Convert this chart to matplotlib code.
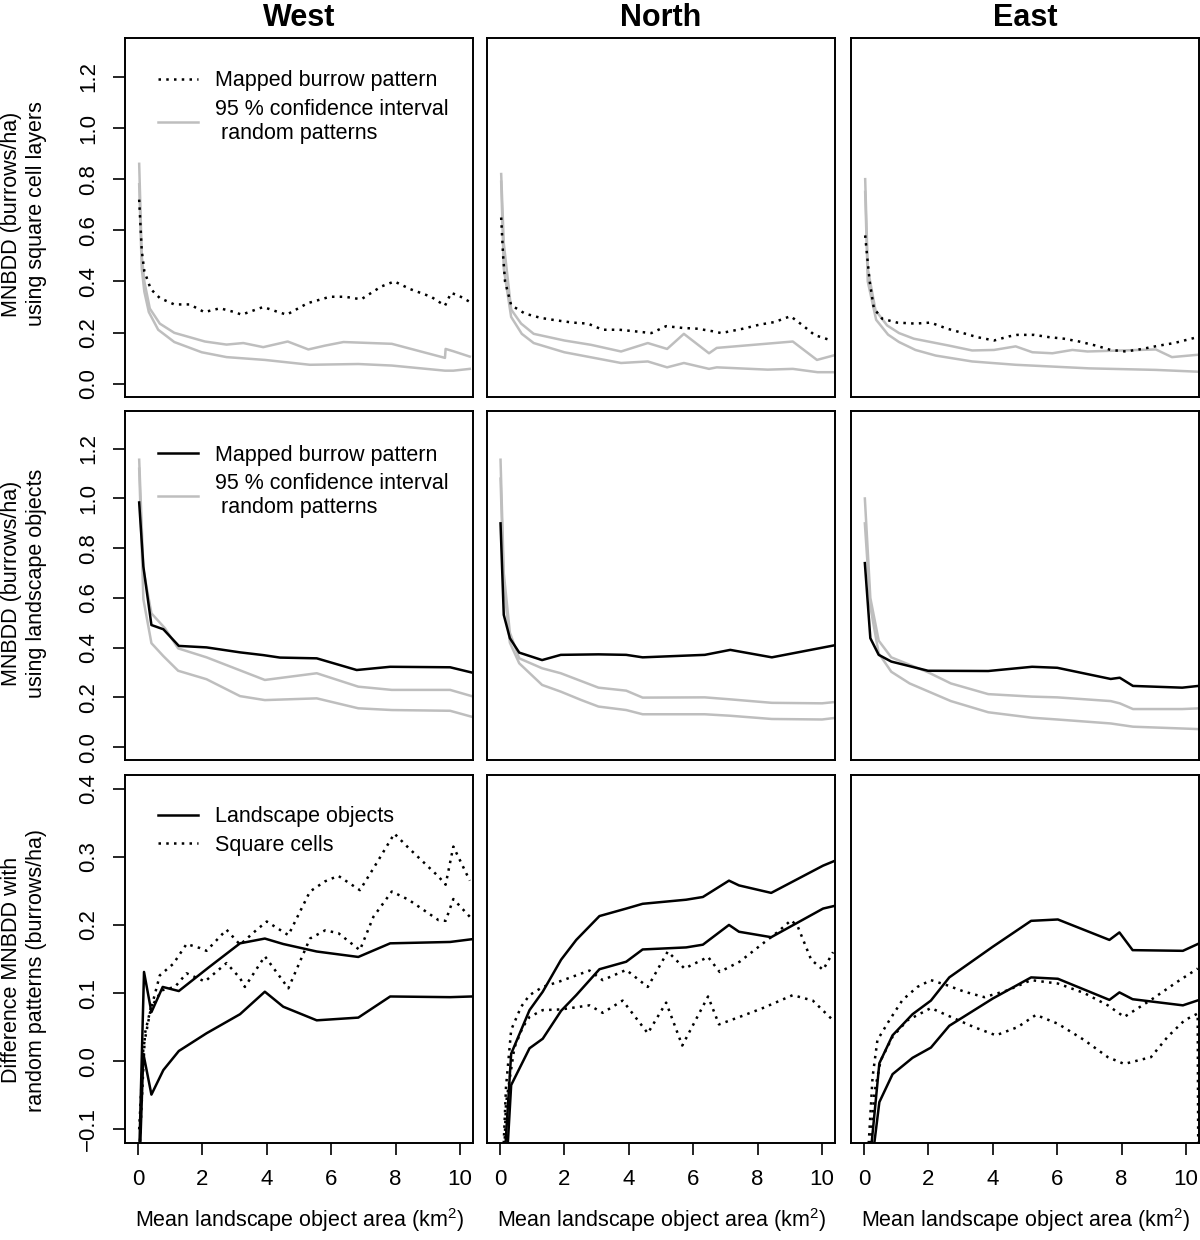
import numpy as np
import matplotlib
matplotlib.use("Agg")
import matplotlib.pyplot as plt
from matplotlib.lines import Line2D

plt.rcParams['font.family'] = ['Liberation Sans', 'DejaVu Sans']
plt.rcParams['mathtext.fontset'] = 'custom'
plt.rcParams['mathtext.rm'] = 'Liberation Sans'
plt.rcParams['mathtext.it'] = 'Liberation Sans'

# ---------------- top row: square cell layers (mapped + 95% CI) ----------------
sq_w_x = [0.04, 0.12, 0.2, 0.4, 0.68, 1.13, 1.61, 2.06, 2.55, 3.0, 3.22, 3.89, 4.36, 4.62,
          5.27, 5.96, 6.43, 6.93, 7.55, 7.96, 8.45, 9.1, 9.53, 9.72, 9.95, 10.3]
sq_w_obs = [0.72, 0.52, 0.44, 0.37, 0.335, 0.31, 0.31, 0.28, 0.295, 0.28, 0.27, 0.30, 0.28, 0.27,
            0.315, 0.34, 0.34, 0.33, 0.38, 0.40, 0.37, 0.34, 0.305, 0.355, 0.345, 0.32]
sq_w_hi_x = [0.04, 0.12, 0.2, 0.37, 0.68, 1.13, 2.08, 2.75, 3.27, 3.89, 4.65, 5.29, 5.81, 6.38,
             7.88, 9.53, 9.55, 9.79, 10.3]
sq_w_hi = [0.86, 0.50, 0.40, 0.294, 0.235, 0.199, 0.165, 0.153, 0.159, 0.143, 0.165, 0.134, 0.149,
           0.163, 0.156, 0.101, 0.136, 0.127, 0.106]
sq_w_lo_x = [0.04, 0.12, 0.2, 0.34, 0.63, 1.13, 1.98, 2.75, 3.94, 5.34, 6.84, 7.88, 9.53, 9.79, 10.3]
sq_w_lo = [0.78, 0.45, 0.36, 0.28, 0.211, 0.163, 0.123, 0.104, 0.093, 0.074, 0.077, 0.071, 0.051,
           0.051, 0.058]

sq_n_x = [0.04, 0.1, 0.16, 0.35, 0.78, 1.28, 1.74, 2.26, 2.73, 3.19, 3.71, 4.18, 4.7, 5.16, 5.68,
          6.14, 6.61, 6.87, 7.54, 8.06, 8.52, 9.02, 9.4, 9.77, 10.29]
sq_n_obs = [0.65, 0.5, 0.40, 0.307, 0.274, 0.257, 0.248, 0.239, 0.235, 0.211, 0.211, 0.205, 0.198,
            0.225, 0.218, 0.215, 0.205, 0.198, 0.215, 0.231, 0.241, 0.264, 0.228, 0.19, 0.169]
sq_n_hi_x = [0.04, 0.12, 0.35, 0.66, 1.05, 2.0, 2.83, 3.76, 4.59, 5.19, 5.71, 6.49, 6.73, 9.09,
             9.84, 10.34]
sq_n_hi = [0.82, 0.55, 0.29, 0.235, 0.195, 0.169, 0.152, 0.126, 0.159, 0.136, 0.195, 0.119, 0.14,
           0.165, 0.093, 0.11]
sq_n_lo_x = [0.04, 0.12, 0.35, 0.68, 1.05, 2.0, 3.76, 4.59, 5.19, 5.71, 6.49, 6.73, 8.31, 9.09,
             9.86, 10.34]
sq_n_lo = [0.79, 0.45, 0.261, 0.195, 0.159, 0.123, 0.081, 0.087, 0.064, 0.081, 0.058, 0.064, 0.055,
           0.058, 0.045, 0.045]

sq_e_x = [0.04, 0.1, 0.18, 0.31, 0.57, 1.03, 1.6, 2.07, 2.59, 3.05, 3.52, 4.04, 4.5, 4.76, 5.28,
          5.75, 6.21, 6.68, 7.2, 7.66, 8.13, 8.64, 9.16, 9.63, 10.35]
sq_e_obs = [0.58, 0.5, 0.40, 0.294, 0.254, 0.239, 0.235, 0.239, 0.215, 0.199, 0.182, 0.169, 0.185,
            0.191, 0.191, 0.182, 0.176, 0.165, 0.149, 0.132, 0.126, 0.136, 0.149, 0.159, 0.182]
sq_e_hi_x = [0.04, 0.12, 0.36, 0.72, 1.09, 1.55, 2.64, 3.36, 4.04, 4.71, 5.23, 5.85, 6.47, 6.94,
             9.06, 9.56, 10.35]
sq_e_hi = [0.80, 0.45, 0.287, 0.228, 0.198, 0.176, 0.149, 0.13, 0.132, 0.146, 0.123, 0.119, 0.132,
           0.126, 0.134, 0.104, 0.113]
sq_e_lo_x = [0.04, 0.12, 0.38, 0.75, 1.09, 1.6, 2.23, 3.36, 4.71, 6.99, 9.06, 10.35]
sq_e_lo = [0.75, 0.40, 0.25, 0.192, 0.163, 0.132, 0.11, 0.087, 0.074, 0.06, 0.054, 0.047]

# ---------------- middle row: landscape objects ----------------
lo_w_x = [0.04, 0.17, 0.42, 0.79, 1.27, 2.13, 3.17, 3.89, 4.41, 5.55, 6.79, 7.83, 9.69, 10.36]
lo_w_obs = [0.984, 0.726, 0.491, 0.474, 0.407, 0.401, 0.381, 0.37, 0.36, 0.357, 0.31, 0.323, 0.321, 0.30]
lo_w_hi_x = [0.04, 0.17, 0.42, 0.84, 1.25, 2.13, 3.94, 5.55, 6.84, 7.88, 9.69, 10.36]
lo_w_hi = [1.156, 0.715, 0.538, 0.478, 0.397, 0.361, 0.27, 0.297, 0.243, 0.23, 0.23, 0.205]
lo_w_lo_x = [0.04, 0.17, 0.42, 0.79, 1.25, 2.13, 3.17, 3.94, 5.55, 6.84, 7.88, 9.69, 10.36]
lo_w_lo = [1.12, 0.595, 0.418, 0.366, 0.307, 0.273, 0.205, 0.189, 0.196, 0.156, 0.149, 0.146, 0.122]

lo_n_x = [0.02, 0.12, 0.31, 0.6, 1.31, 1.89, 3.06, 3.92, 4.43, 6.36, 7.15, 8.44, 10.45]
lo_n_obs = [0.90, 0.532, 0.438, 0.38, 0.35, 0.371, 0.373, 0.371, 0.361, 0.371, 0.391, 0.361, 0.411]
lo_n_hi_x = [0.02, 0.12, 0.31, 0.6, 1.31, 1.89, 3.06, 3.92, 4.43, 6.36, 7.15, 8.44, 10.0, 10.45]
lo_n_hi = [1.156, 0.70, 0.46, 0.357, 0.317, 0.297, 0.239, 0.227, 0.199, 0.2, 0.192, 0.178, 0.176, 0.182]
lo_n_lo_x = [0.02, 0.12, 0.31, 0.6, 1.31, 1.89, 2.53, 3.06, 3.92, 4.43, 6.36, 7.15, 8.44, 10.0, 10.45]
lo_n_lo = [1.08, 0.66, 0.42, 0.337, 0.25, 0.223, 0.189, 0.163, 0.149, 0.132, 0.132, 0.126, 0.113,
           0.111, 0.118]

lo_e_x = [0.03, 0.2, 0.46, 0.85, 1.99, 3.86, 5.22, 6.0, 7.66, 7.94, 8.35, 9.88, 10.45]
lo_e_obs = [0.74, 0.438, 0.371, 0.344, 0.307, 0.306, 0.323, 0.319, 0.274, 0.279, 0.246, 0.239, 0.247]
lo_e_hi_x = [0.03, 0.2, 0.46, 0.85, 1.99, 2.7, 3.86, 5.22, 6.0, 7.66, 7.94, 8.35, 9.88, 10.45]
lo_e_hi = [1.0, 0.6, 0.428, 0.361, 0.301, 0.256, 0.213, 0.203, 0.2, 0.185, 0.176, 0.153, 0.153, 0.156]
lo_e_lo_x = [0.03, 0.2, 0.46, 0.85, 1.42, 2.7, 3.86, 5.22, 6.0, 7.66, 8.35, 10.45]
lo_e_lo = [0.9, 0.565, 0.377, 0.303, 0.256, 0.185, 0.14, 0.118, 0.111, 0.095, 0.082, 0.072]

# ---------------- bottom row: difference with random patterns ----------------
d_lo_w_up_x = [0.04, 0.19, 0.42, 0.77, 1.27, 2.18, 3.17, 3.94, 4.51, 5.55, 6.84, 7.83, 9.69, 10.36]
d_lo_w_up = [-0.14, 0.131, 0.072, 0.109, 0.103, 0.137, 0.173, 0.18, 0.172, 0.161, 0.153, 0.173, 0.175, 0.179]
d_lo_w_dn_x = [0.04, 0.17, 0.42, 0.79, 1.27, 2.13, 3.17, 3.94, 4.51, 5.55, 6.84, 7.83, 9.69, 10.36]
d_lo_w_dn = [-0.17, 0.011, -0.049, -0.013, 0.015, 0.041, 0.069, 0.102, 0.08, 0.06, 0.064, 0.095, 0.094, 0.095]
d_sq_w_up_x = [0.04, 0.17, 0.37, 0.68, 1.1, 1.51, 1.93, 2.13, 2.75, 3.17, 3.69, 4.0, 4.67, 5.34,
               5.81, 6.22, 6.89, 7.31, 7.96, 8.4, 9.33, 9.55, 9.79, 10.3]
d_sq_w_up = [-0.10, 0.02, 0.07, 0.126, 0.143, 0.172, 0.166, 0.162, 0.193, 0.171, 0.193, 0.205, 0.185,
             0.249, 0.264, 0.272, 0.251, 0.283, 0.334, 0.313, 0.271, 0.259, 0.315, 0.265]
d_sq_w_dn_x = [0.04, 0.22, 0.4, 0.74, 1.15, 1.51, 2.08, 2.75, 3.17, 3.32, 3.94, 4.67, 5.34, 5.81,
               6.22, 6.89, 7.31, 7.88, 8.4, 9.33, 9.55, 9.79, 10.3]
d_sq_w_dn = [-0.14, 0.041, 0.078, 0.104, 0.109, 0.129, 0.117, 0.144, 0.122, 0.109, 0.154, 0.107, 0.18,
             0.192, 0.188, 0.163, 0.212, 0.249, 0.237, 0.207, 0.206, 0.238, 0.212]

d_lo_n_x = [0.02, 0.15, 0.35, 0.92, 1.33, 1.9, 2.37, 3.09, 3.92, 4.43, 5.78, 6.3, 7.11, 7.42, 8.42,
            10.03, 10.39]
d_lo_n_up = [-0.18, -0.14, 0.011, 0.075, 0.102, 0.149, 0.178, 0.213, 0.224, 0.231, 0.237, 0.241,
             0.265, 0.258, 0.247, 0.287, 0.294]
d_lo_n_dn = [-0.26, -0.2, -0.035, 0.019, 0.033, 0.074, 0.097, 0.135, 0.146, 0.164, 0.167, 0.171,
             0.2, 0.19, 0.182, 0.224, 0.228]
d_sq_n_up_x = [0.05, 0.19, 0.35, 0.66, 0.92, 1.33, 1.85, 2.37, 2.78, 3.19, 3.92, 4.59, 5.21, 5.73,
               6.46, 6.82, 7.44, 8.06, 8.63, 9.04, 9.25, 9.66, 10.03, 10.34]
d_sq_n_up = [-0.2, -0.038, 0.046, 0.08, 0.097, 0.109, 0.117, 0.126, 0.133, 0.119, 0.134, 0.109, 0.161,
             0.136, 0.153, 0.131, 0.146, 0.169, 0.19, 0.207, 0.197, 0.149, 0.134, 0.16]
d_sq_n_dn_x = [0.05, 0.19, 0.45, 0.71, 0.92, 1.33, 1.9, 2.78, 3.19, 3.81, 4.59, 5.16, 5.66, 6.46,
               6.8, 7.44, 8.16, 9.09, 9.71, 10.34]
d_sq_n_dn = [-0.25, -0.062, 0.02, 0.05, 0.065, 0.075, 0.076, 0.082, 0.071, 0.089, 0.041, 0.086,
             0.023, 0.095, 0.054, 0.065, 0.078, 0.097, 0.089, 0.06]

d_lo_e_x = [0.05, 0.22, 0.48, 0.89, 1.51, 2.08, 2.65, 4.0, 5.19, 6.02, 7.62, 7.93, 8.34, 9.9, 10.41]
d_lo_e_up = [-0.2, -0.13, -0.003, 0.038, 0.069, 0.089, 0.123, 0.168, 0.206, 0.208, 0.178, 0.189,
             0.163, 0.162, 0.173]
d_lo_e_dn = [-0.26, -0.16, -0.06, -0.019, 0.005, 0.02, 0.052, 0.092, 0.123, 0.121, 0.09, 0.101,
             0.091, 0.082, 0.09]
d_sq_e_up_x = [0.05, 0.15, 0.27, 0.42, 0.79, 1.2, 1.66, 2.08, 2.55, 3.12, 3.74, 4.46, 5.19, 6.02,
               6.84, 7.57, 8.08, 8.91, 9.74, 10.36]
d_sq_e_up = [-0.2, -0.12, -0.023, 0.031, 0.06, 0.09, 0.109, 0.119, 0.112, 0.102, 0.094, 0.104, 0.119,
             0.114, 0.1, 0.082, 0.065, 0.09, 0.117, 0.136]
d_sq_e_dn_x = [0.1, 0.32, 0.52, 0.89, 1.35, 2.08, 2.7, 3.42, 4.1, 4.77, 5.34, 6.02, 6.84, 7.57, 8.08,
               8.91, 9.43, 9.95, 10.36, 10.39]
d_sq_e_dn = [-0.2, -0.048, 0.001, 0.036, 0.06, 0.078, 0.065, 0.05, 0.038, 0.05, 0.068, 0.055, 0.031,
             0.006, -0.004, 0.006, 0.036, 0.06, 0.07, -0.3]

regions = ['West', 'North', 'East']
row_ylabels = ['MNBDD (burrows/ha)\nusing square cell layers',
               'MNBDD (burrows/ha)\nusing landscape objects',
               'Difference MNBDD with\nrandom patterns (burrows/ha)']
xlab = 'Mean landscape object area (km$^{2}$)'

GREY = '#bebebe'
DOT = (0, (1, 2.1))
W, H = 1200, 1240
fig = plt.figure(figsize=(W / 100, H / 100), dpi=100)

col_left = [125, 487, 851]
col_w = 348
row_top = [38, 411, 775]
row_bot = [397, 760, 1143]
lab_y = [214, 583, 970]

axes = [[None] * 3 for _ in range(3)]
for r in range(3):
    for c in range(3):
        ax = fig.add_axes([col_left[c] / W, 1 - row_bot[r] / H, col_w / W,
                           (row_bot[r] - row_top[r]) / H])
        for s in ax.spines.values():
            s.set_linewidth(1.4)
        ax.set_xlim(-0.4, 10.4)
        if r < 2:
            ax.set_ylim(-0.052, 1.352)
            ax.set_yticks(np.arange(0, 1.21, 0.2))
        else:
            ax.set_ylim(-0.12, 0.42)
            ax.set_yticks(np.arange(-0.1, 0.41, 0.1))
        ax.set_xticks([0, 2, 4, 6, 8, 10])
        ax.tick_params(direction='out', length=8.5, width=1.2, labelsize=16)
        ax.tick_params(axis='x', pad=10)
        ax.tick_params(axis='y', pad=10, labelrotation=90)
        for lab in ax.get_yticklabels():
            lab.set_verticalalignment('center')
        if r < 2:
            ax.tick_params(axis='x', bottom=False, labelbottom=False)
        else:
            ax.set_xlabel(xlab, fontsize=15.5, labelpad=12)
        if c > 0:
            ax.tick_params(axis='y', left=False, labelleft=False)
        if r == 0:
            ax.set_title(regions[c], fontsize=22, fontweight='bold', pad=9)
        axes[r][c] = ax

for r in range(3):
    fig.text(24 / W, 1 - lab_y[r] / H, row_ylabels[r], rotation=90, ha='center', va='center',
             fontsize=15.5, linespacing=1.3, multialignment='center')

lw = 1.8
# top row
top = [(sq_w_x, sq_w_obs, sq_w_hi_x, sq_w_hi, sq_w_lo_x, sq_w_lo),
       (sq_n_x, sq_n_obs, sq_n_hi_x, sq_n_hi, sq_n_lo_x, sq_n_lo),
       (sq_e_x, sq_e_obs, sq_e_hi_x, sq_e_hi, sq_e_lo_x, sq_e_lo)]
for c, (x, obs, hx, hi, lx, lo) in enumerate(top):
    ax = axes[0][c]
    ax.plot(hx, hi, color=GREY, lw=lw)
    ax.plot(lx, lo, color=GREY, lw=lw)
    ax.plot(x, obs, color='black', lw=lw, linestyle=DOT)

mid = [(lo_w_x, lo_w_obs, lo_w_hi_x, lo_w_hi, lo_w_lo_x, lo_w_lo),
       (lo_n_x, lo_n_obs, lo_n_hi_x, lo_n_hi, lo_n_lo_x, lo_n_lo),
       (lo_e_x, lo_e_obs, lo_e_hi_x, lo_e_hi, lo_e_lo_x, lo_e_lo)]
for c, (x, obs, hx, hi, lx, lo) in enumerate(mid):
    ax = axes[1][c]
    ax.plot(hx, hi, color=GREY, lw=lw)
    ax.plot(lx, lo, color=GREY, lw=lw)
    ax.plot(x, obs, color='black', lw=lw)

bot = [(d_lo_w_up_x, d_lo_w_up, d_lo_w_dn_x, d_lo_w_dn, d_sq_w_up_x, d_sq_w_up, d_sq_w_dn_x, d_sq_w_dn),
       (d_lo_n_x, d_lo_n_up, d_lo_n_x, d_lo_n_dn, d_sq_n_up_x, d_sq_n_up, d_sq_n_dn_x, d_sq_n_dn),
       (d_lo_e_x, d_lo_e_up, d_lo_e_x, d_lo_e_dn, d_sq_e_up_x, d_sq_e_up, d_sq_e_dn_x, d_sq_e_dn)]
for c, (ux, u, dx, d, sux, su, sdx, sd) in enumerate(bot):
    ax = axes[2][c]
    ax.plot(sux, su, color='black', lw=lw, linestyle=DOT)
    ax.plot(sdx, sd, color='black', lw=lw, linestyle=DOT)
    ax.plot(ux, u, color='black', lw=lw)
    ax.plot(dx, d, color='black', lw=lw)

ci_label = '95 % confidence interval\n random patterns'
leg_kw = dict(frameon=False, fontsize=15.5, loc='upper left', borderpad=0, borderaxespad=0,
              handlelength=1.85, handletextpad=0.8, labelspacing=0.35)
axes[0][0].legend([Line2D([], [], color='black', lw=lw, linestyle=DOT),
                   Line2D([], [], color=GREY, lw=lw)],
                  ['Mapped burrow pattern', ci_label], bbox_to_anchor=(0.095, 0.91), **leg_kw)
axes[1][0].legend([Line2D([], [], color='black', lw=lw),
                   Line2D([], [], color=GREY, lw=lw)],
                  ['Mapped burrow pattern', ci_label], bbox_to_anchor=(0.095, 0.904), **leg_kw)
axes[2][0].legend([Line2D([], [], color='black', lw=lw),
                   Line2D([], [], color='black', lw=lw, linestyle=DOT)],
                  ['Landscape objects', 'Square cells'], bbox_to_anchor=(0.095, 0.915), **leg_kw)

fig.savefig('out.png', dpi=100)
